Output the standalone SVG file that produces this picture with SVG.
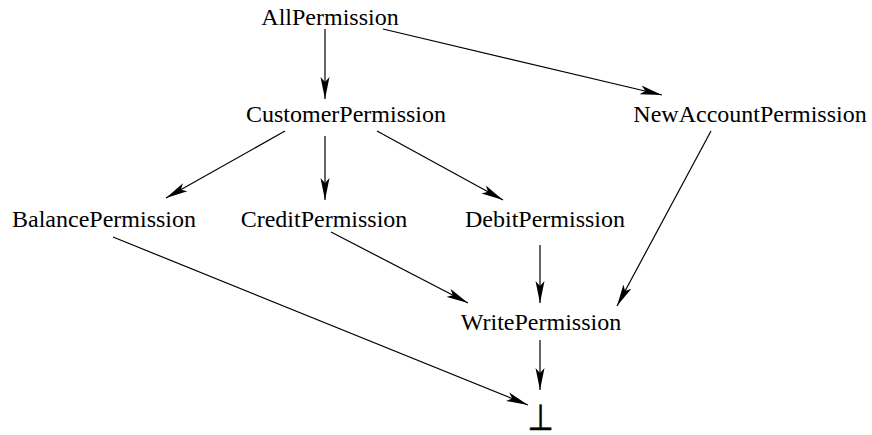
<svg xmlns="http://www.w3.org/2000/svg" width="872" height="435" viewBox="0 0 872 435">
<style>
.t{font-family:"Liberation Serif","Times New Roman",serif;font-size:24px;fill:#000;text-anchor:middle}
.e{stroke:#000;stroke-width:1.2;fill:none;marker-end:url(#ah)}
</style>
<defs>
<marker id="ah" markerWidth="24" markerHeight="10" refX="22" refY="5" orient="auto" markerUnits="userSpaceOnUse" viewBox="0 0 24 10">
<path d="M22,5 L0,0.5 L5,5 L0,9.5 Z" fill="#000"/>
</marker>
</defs>
<rect width="872" height="435" fill="#fff"/>
<g id="connectors">
<line class="e" x1="325" y1="29" x2="325" y2="99"/>
<line class="e" x1="383" y1="29" x2="662" y2="95"/>
<line class="e" x1="285" y1="131" x2="166" y2="198"/>
<line class="e" x1="325" y1="136" x2="325" y2="200"/>
<line class="e" x1="377" y1="131" x2="503" y2="200"/>
<line class="e" x1="331" y1="232" x2="468" y2="303"/>
<line class="e" x1="540" y1="245" x2="540" y2="303"/>
<line class="e" x1="711" y1="131" x2="617" y2="306"/>
<line class="e" x1="113" y1="237" x2="528" y2="405"/>
<line class="e" x1="540" y1="340" x2="540" y2="390"/>
</g>
<g id="AllPermission"><text class="t" x="330" y="25">AllPermission</text></g>
<g id="CustomerPermission"><text class="t" x="346" y="122">CustomerPermission</text></g>
<g id="NewAccountPermission"><text class="t" x="750" y="122">NewAccountPermission</text></g>
<g id="BalancePermission"><text class="t" x="104" y="227">BalancePermission</text></g>
<g id="CreditPermission"><text class="t" x="324" y="227">CreditPermission</text></g>
<g id="DebitPermission"><text class="t" x="545" y="227">DebitPermission</text></g>
<g id="WritePermission"><text class="t" x="541" y="330">WritePermission</text></g>
<g id="bottom"><text transform="translate(540.5,430) scale(1,1.2)" x="0" y="0" style="font-family:'DejaVu Sans',sans-serif;font-size:30px;text-anchor:middle;stroke:#000;stroke-width:0.5">⊥</text></g>
</svg>
